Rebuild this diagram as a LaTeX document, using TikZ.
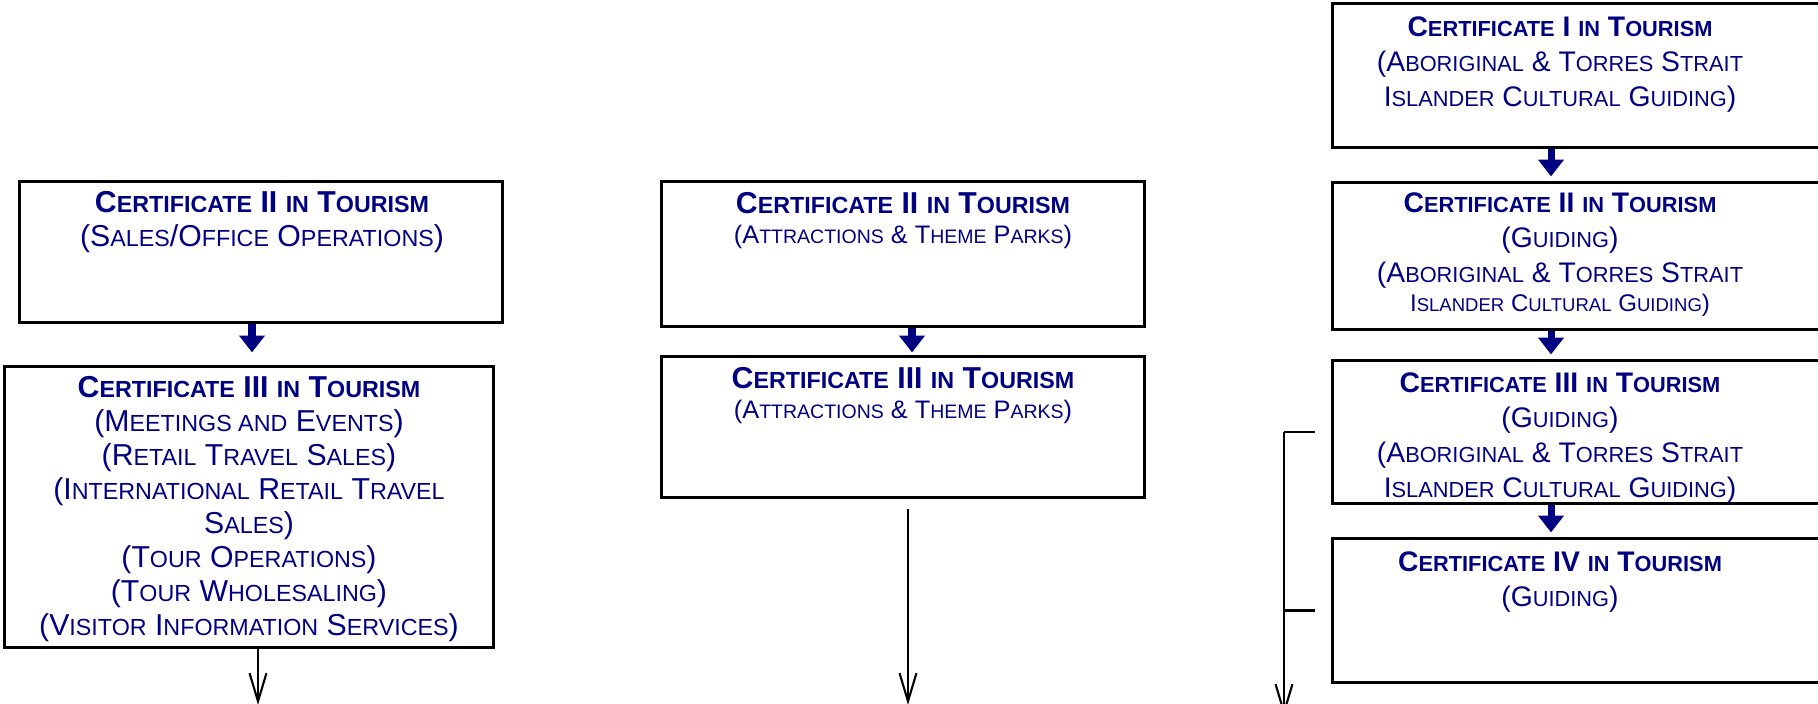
\documentclass[tikz,border=0pt]{standalone}
\usepackage{fontspec}
\setmainfont{Liberation Sans}
\usetikzlibrary{arrows.meta}
\definecolor{navy}{RGB}{0,0,128}
\makeatletter
\newdimen\lodim
\newcommand\lo[1]{{\lodim=\f@size pt\lodim=0.77\lodim\fontsize{\strip@pt\lodim}{\f@baselineskip}\selectfont#1}}
\makeatother
\newcommand\ttl[1]{{\bfseries #1}}
\newcommand\smallm[1]{{\fontsize{7.2}{8.5}\selectfont #1}}
\newcommand\smallr[1]{{\fontsize{6.85}{8.3}\selectfont #1}}
\tikzset{
  box/.style={draw=black, line width=0.85pt, inner sep=0pt},
  txt/.style={text=navy, align=center, inner sep=0pt, anchor=north},
  txtL/.style={txt, font=\fontsize{8.6}{9.67}\selectfont},
  txtR/.style={txt, font=\fontsize{8.05}{9.9}\selectfont},
  blue arrow/.style={draw=navy, line width=2pt, -{Triangle[length=4.8pt,width=7.1pt]}},
  thin arrow/.style={draw=black, line width=0.6pt, -{Straight Barb[length=8pt,width=4.8pt,line width=0.6pt]}},
  thin line/.style={draw=black, line width=0.6pt}
}
\begin{document}
\begin{tikzpicture}[x=0.01cm, y=-0.01cm]
\useasboundingbox (0,0) rectangle (1818,704);
\clip (0,0) rectangle (1818,704);
% boxes
\node[box, minimum width=4.82cm, minimum height=1.40cm] (L1) at (261,252) {};
\node[box, minimum width=4.88cm, minimum height=2.80cm] (L2) at (249,507) {};
\node[box, minimum width=4.82cm, minimum height=1.44cm] (M1) at (903,254) {};
\node[box, minimum width=4.82cm, minimum height=1.40cm] (M2) at (903,427) {};
\node[box, minimum width=5.07cm, minimum height=1.43cm] (R1) at (1586.5,75.5) {};
\node[box, minimum width=5.07cm, minimum height=1.46cm] (R2) at (1586.5,256) {};
\node[box, minimum width=5.07cm, minimum height=1.42cm] (R3) at (1586.5,432) {};
\node[box, minimum width=5.07cm, minimum height=1.43cm] (R4) at (1586.5,610.5) {};
% texts
\node[txtL] (tL1) at (262,191) {\ttl{C\lo{ERTIFICATE} II \lo{IN} T\lo{OURISM}}\\(S\lo{ALES}/O\lo{FFICE} O\lo{PERATIONS})};
\node[txtL] (tL2) at (249,376) {\ttl{C\lo{ERTIFICATE} III \lo{IN} T\lo{OURISM}}\\(M\lo{EETINGS AND} E\lo{VENTS})\\(R\lo{ETAIL} T\lo{RAVEL} S\lo{ALES})\\(I\lo{NTERNATIONAL} R\lo{ETAIL} T\lo{RAVEL}\\S\lo{ALES})\\(T\lo{OUR} O\lo{PERATIONS})\\(T\lo{OUR} W\lo{HOLESALING})\\(V\lo{ISITOR} I\lo{NFORMATION} S\lo{ERVICES})};
\node[txtL] (tM1) at (903,192) {\ttl{C\lo{ERTIFICATE} II \lo{IN} T\lo{OURISM}}\\[-1.2pt]\smallm{(A\lo{TTRACTIONS} \& T\lo{HEME} P\lo{ARKS})}};
\node[txtL] (tM2) at (903,367) {\ttl{C\lo{ERTIFICATE} III \lo{IN} T\lo{OURISM}}\\[-1.2pt]\smallm{(A\lo{TTRACTIONS} \& T\lo{HEME} P\lo{ARKS})}};
\node[txtR] (tR1) at (1560,16.5) {\ttl{C\lo{ERTIFICATE} I \lo{IN} T\lo{OURISM}}\\(A\lo{BORIGINAL} \& T\lo{ORRES} S\lo{TRAIT}\\I\lo{SLANDER} C\lo{ULTURAL} G\lo{UIDING})};
\node[txtR] (tR2) at (1560,192.5) {\ttl{C\lo{ERTIFICATE} II \lo{IN} T\lo{OURISM}}\\(G\lo{UIDING})\\(A\lo{BORIGINAL} \& T\lo{ORRES} S\lo{TRAIT}\\[-1.7pt]\smallr{I\lo{SLANDER} C\lo{ULTURAL} G\lo{UIDING})}};
\node[txtR] (tR3) at (1560,372.5) {\ttl{C\lo{ERTIFICATE} III \lo{IN} T\lo{OURISM}}\\(G\lo{UIDING})\\(A\lo{BORIGINAL} \& T\lo{ORRES} S\lo{TRAIT}\\I\lo{SLANDER} C\lo{ULTURAL} G\lo{UIDING})};
\node[txtR] (tR4) at (1560,551.5) {\ttl{C\lo{ERTIFICATE} IV \lo{IN} T\lo{OURISM}}\\(G\lo{UIDING})};
% arrow x positions
\coordinate (ax) at (252,0);
\coordinate (mx) at (912,0);
\coordinate (rx) at (1551,0);
\coordinate (lbx) at (258,0);
\coordinate (brx) at (1284,0);
% blue arrows
\draw[blue arrow] (L1.south -| ax) -- ([yshift=0.13cm]L2.north -| ax);
\draw[blue arrow] (M1.south -| mx) -- ([yshift=0.03cm]M2.north -| mx);
\draw[blue arrow] (R1.south -| rx) -- ([yshift=0.05cm]R2.north -| rx);
\draw[blue arrow] (R2.south -| rx) -- ([yshift=0.05cm]R3.north -| rx);
\draw[blue arrow] (R3.south -| rx) -- ([yshift=0.05cm]R4.north -| rx);
% black arrows
\coordinate (endL) at (258,705);
\coordinate (mtop) at (908,509);
\coordinate (endM) at (908,705);
\coordinate (endR) at (1284,716);
\draw[thin arrow] (L2.south -| lbx) -- (endL);
\draw[thin arrow] (mtop) -- (endM);
% bracket
\coordinate (b3) at ([xshift=-0.16cm]R3.west);
\coordinate (b4) at ([xshift=-0.16cm]R4.west);
\draw[thin line] (b3) -- (R3.west -| brx);
\draw[thin line] (b4) -- (R4.west -| brx);
\draw[thin arrow] (R3.west -| brx) -- (endR);
\end{tikzpicture}
\end{document}
